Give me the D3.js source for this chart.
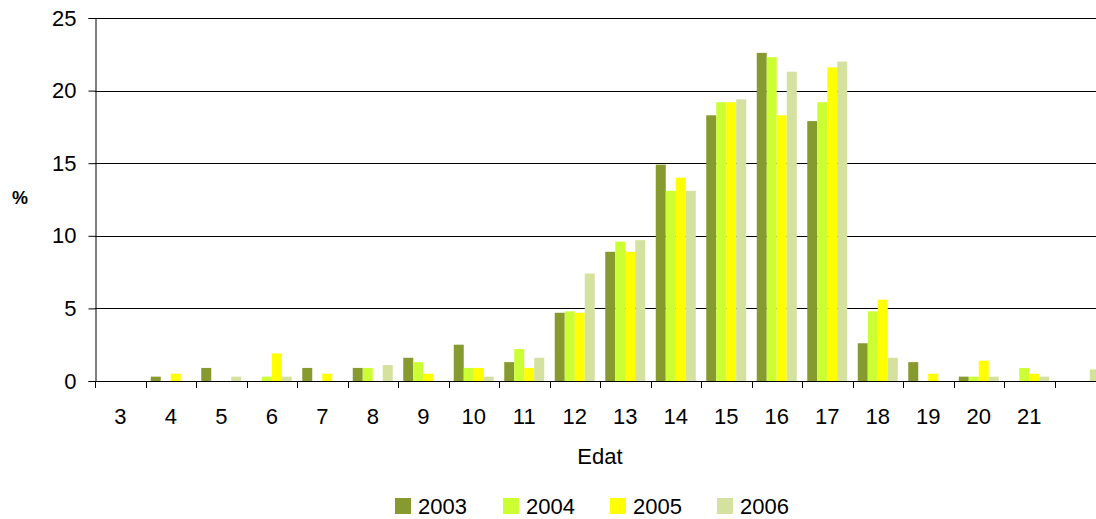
<!DOCTYPE html>
<html><head><meta charset="utf-8">
<script src="https://cdn.jsdelivr.net/npm/d3@7"></script>
<style>body{margin:0;background:#fff}svg{display:block}text{font-family:"Liberation Sans",Arial,sans-serif}</style>
</head><body><svg id="c" width="1096" height="519"></svg>
<script>
const categories = [3,4,5,6,7,8,9,10,11,12,13,14,15,16,17,18,19,20,21,22];
const categoryLabels = ["3","4","5","6","7","8","9","10","11","12","13","14","15","16","17","18","19","20","21",""];
const seriesNames = ["2003","2004","2005","2006"];
const s2003 = [0,0.3,0.9,0,0.9,0.9,1.6,2.5,1.3,4.7,8.9,14.9,18.3,22.6,17.9,2.6,1.3,0.3,0,0];
const s2004 = [0,0,0,0.3,0,0.9,1.3,0.9,2.2,4.8,9.6,13.1,19.2,22.3,19.2,4.8,0,0.3,0.9,0];
const s2005 = [0,0.5,0,1.9,0.5,0,0.5,0.9,0.9,4.7,8.9,14.0,19.2,18.3,21.6,5.6,0.5,1.4,0.5,0];
const s2006 = [0,0,0.3,0.3,0,1.1,0,0.3,1.6,7.4,9.7,13.1,19.4,21.3,22.0,1.6,0,0.3,0.3,0.8];
const yTicks = [0,5,10,15,20,25];
const colors = ["#879A2F","#CCFF33","#FFFF00","#D4E19F"];

const series = [s2003,s2004,s2005,s2006];
const svg = d3.select("#c");
const x0 = 95, plotW = 1010, yBase = 381, yTop = 18;
const x = d3.scaleBand().domain(categories).range([x0, x0 + plotW]).paddingInner(0).paddingOuter(0);
const xs = d3.scaleBand().domain(seriesNames).range([5.25, x.bandwidth() - 5.25]);
const y = d3.scaleLinear().domain([0,25]).range([yBase, yTop]);

// gridlines
svg.append("g").selectAll("line").data(yTicks.filter(t=>t>0)).join("line")
  .attr("x1", x0).attr("x2", 1096).attr("y1", d=>Math.round(y(d))+0.5).attr("y2", d=>Math.round(y(d))+0.5)
  .attr("stroke","#000").attr("stroke-width",1);

// bars
const g = svg.append("g");
series.forEach((vals,si)=>{
  g.append("g").selectAll("rect").data(categories.map((c,i)=>({c,v:vals[i]}))).join("rect")
    .attr("x", d=>x(d.c)+xs(seriesNames[si]))
    .attr("width", xs.bandwidth())
    .attr("y", d=>y(d.v))
    .attr("height", d=>yBase - y(d.v))
    .attr("fill", colors[si]);
});

// y axis
const yAxis = d3.axisLeft(y).tickValues(yTicks).tickSize(7).tickPadding(12);
const ya = svg.append("g").attr("transform",`translate(${x0+0.5},0)`).call(yAxis);
ya.select(".domain").attr("stroke","#000");
ya.selectAll(".tick line").attr("stroke","#000");
ya.selectAll("text").attr("font-size",22).attr("fill","#000").attr("font-family","Liberation Sans, Arial, sans-serif");

// x axis baseline
svg.append("line").attr("x1",x0).attr("x2",1096).attr("y1",yBase+0.5).attr("y2",yBase+0.5).attr("stroke","#000");
// x ticks at category boundaries
const bounds = categories.map(c=>x(c)).concat([x0+plotW]);
svg.append("g").selectAll("line").data(bounds).join("line")
  .attr("x1",d=>Math.round(d)+0.5).attr("x2",d=>Math.round(d)+0.5)
  .attr("y1",yBase).attr("y2",yBase+7).attr("stroke","#000");
svg.append("g").selectAll("text").data(categories).join("text")
  .attr("x", d=>x(d)+x.bandwidth()/2).attr("y", 424)
  .attr("text-anchor","middle").attr("font-size",22).attr("fill","#000")
  .text((d,i)=>categoryLabels[i]);

// axis titles
svg.append("text").attr("x",600).attr("y",464).attr("text-anchor","middle").attr("font-size",22).text("Edat");
svg.append("text").attr("x",20).attr("y",204).attr("text-anchor","middle").attr("font-size",18).attr("font-weight","bold").text("%");

// legend
const legX = [395,503,610,717];
const lg = svg.append("g").selectAll("g").data(seriesNames).join("g")
  .attr("transform",(d,i)=>`translate(${legX[i]},498)`);
lg.append("rect").attr("width",16).attr("height",16).attr("fill",(d,i)=>colors[i]);
lg.append("text").attr("x",23).attr("y",16).attr("font-size",22).text(d=>d);
</script></body></html>
